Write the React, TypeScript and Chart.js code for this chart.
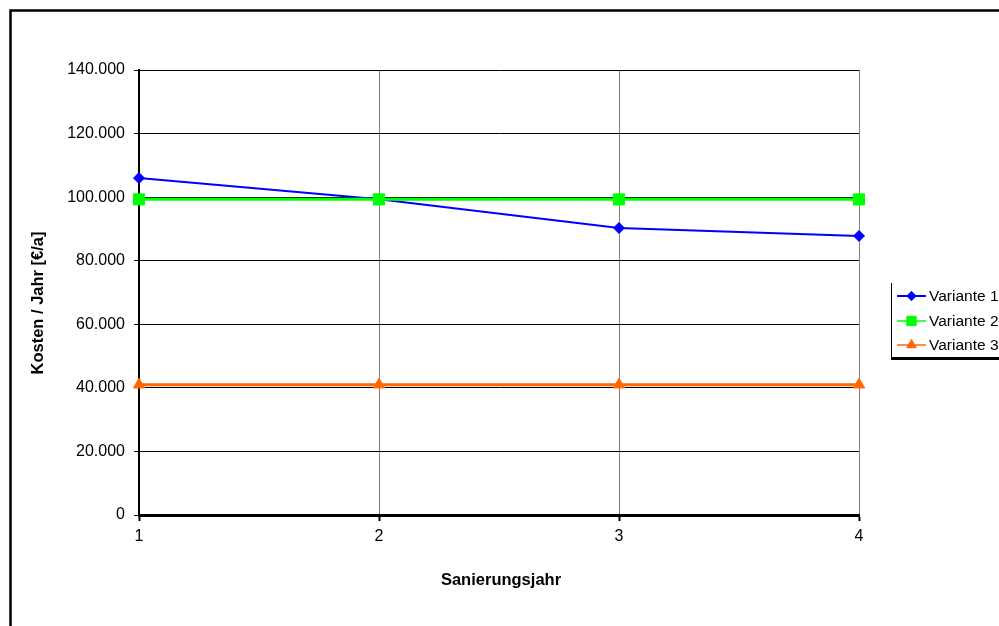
import { useEffect, useRef } from 'react';
import { Chart, registerables } from 'chart.js';
import { drawPoint } from 'chart.js/helpers';

Chart.register(...registerables);

// Sanierungsjahr categories and yearly costs (€/a) per variant
const years = ['1', '2', '3', '4'];
const variante1 = [106000, 99300, 90300, 87800];
const variante2 = [99300, 99300, 99300, 99300];
const variante3 = [41000, 41000, 41000, 41000];
const yMin = 0;
const yMax = 140000;
const yStep = 20000;

const FONT = '"Liberation Sans", Arial, sans-serif';

const formatThousands = (v: number) =>
  String(Math.round(v)).replace(/\B(?=(\d{3})+(?!\d))/g, '.');

const series = [
  { label: 'Variante 1', data: variante1, color: '#0000FF', width: 2, legendWidth: 2, style: 'rectRot', radius: 5.5, order: 2 },
  { label: 'Variante 2', data: variante2, color: '#00FF00', width: 3, legendWidth: 1.5, style: 'rect', radius: 7.8, order: 1 },
  { label: 'Variante 3', data: variante3, color: '#FF6600', width: 3, legendWidth: 1.5, style: 'triangle', radius: 6.5, order: 0 },
];

// Frame, axis titles and the legend box
const decorations = {
  id: 'decorations',
  afterDraw(chart: Chart) {
    const ctx = chart.ctx;
    const area = chart.chartArea;
    ctx.save();

    // outer frame (left and top edges visible)
    ctx.strokeStyle = '#000';
    ctx.lineWidth = 2.5;
    ctx.beginPath();
    ctx.moveTo(10.5, 640);
    ctx.lineTo(10.5, 10.5);
    ctx.lineTo(1010, 10.5);
    ctx.stroke();

    // axis titles
    ctx.fillStyle = '#000';
    ctx.font = `bold 16.5px ${FONT}`;
    ctx.textAlign = 'center';
    ctx.textBaseline = 'middle';
    ctx.fillText('Sanierungsjahr', (area.left + area.right) / 2 + 2, 580);
    ctx.save();
    ctx.translate(38, 303);
    ctx.rotate(-Math.PI / 2);
    ctx.fillText('Kosten / Jahr [€/a]', 0, 0);
    ctx.restore();

    // legend box
    const lx = 891.5;
    const top = 283;
    const bottom = 358;
    ctx.lineWidth = 1;
    ctx.beginPath();
    ctx.moveTo(lx, top);
    ctx.lineTo(lx, bottom);
    ctx.stroke();
    ctx.lineWidth = 3;
    ctx.beginPath();
    ctx.moveTo(lx - 0.5, bottom + 0.5);
    ctx.lineTo(1010, bottom + 0.5);
    ctx.stroke();

    ctx.font = `15.5px ${FONT}`;
    ctx.textAlign = 'left';
    const rows = [296, 321, 345];
    series.forEach((s, i) => {
      const y = rows[i];
      ctx.strokeStyle = s.color;
      ctx.lineWidth = s.legendWidth;
      ctx.beginPath();
      ctx.moveTo(897, y);
      ctx.lineTo(926, y);
      ctx.stroke();
      ctx.fillStyle = s.color;
      ctx.strokeStyle = s.color;
      ctx.lineWidth = 1;
      drawPoint(ctx, { pointStyle: s.style as any, radius: s.radius * 0.85, rotation: 0, borderWidth: 1 }, 911.5, y);
      ctx.fillStyle = '#000';
      ctx.fillText(s.label, 929, y + 1);
    });

    ctx.restore();
  },
};

export default function App() {
  const canvasRef = useRef<HTMLCanvasElement | null>(null);

  useEffect(() => {
    const canvas = canvasRef.current;
    if (!canvas) return;
    const chart = new Chart(canvas, {
      type: 'line',
      data: {
        labels: years,
        datasets: series.map((s) => ({
          label: s.label,
          data: s.data,
          order: s.order,
          borderColor: s.color,
          backgroundColor: s.color,
          borderWidth: s.width,
          pointStyle: s.style as any,
          pointRadius: s.radius,
          pointBorderWidth: 1,
          pointBorderColor: s.color,
          pointBackgroundColor: s.color,
          tension: 0,
          fill: false,
        })),
      },
      options: {
        responsive: false,
        animation: false,
        layout: { padding: { left: 0, top: 70, right: 140, bottom: 0 } },
        plugins: {
          legend: { display: false },
          tooltip: { enabled: false },
        },
        scales: {
          x: {
            type: 'category',
            offset: false,
            grid: { color: '#808080', lineWidth: 1, tickColor: '#000', tickLength: 6, tickWidth: 2 },
            border: { display: true, color: '#000', width: 3 },
            ticks: { color: '#000', font: { family: FONT, size: 16 }, padding: 6, maxRotation: 0 },
            afterFit: (scale: any) => {
              scale.height = 111;
            },
          },
          y: {
            min: yMin,
            max: yMax,
            grid: { color: '#000', lineWidth: 1, tickColor: '#000', tickLength: 5 },
            border: { display: true, color: '#000', width: 2 },
            ticks: {
              stepSize: yStep,
              color: '#000',
              font: { family: FONT, size: 16 },
              padding: 9,
              callback: (v: any) => formatThousands(Number(v)),
            },
            afterFit: (scale: any) => {
              scale.width = 139;
            },
          },
        },
      },
      plugins: [decorations],
    });
    return () => chart.destroy();
  }, []);

  return (
    <div style={{ position: 'absolute', left: 0, top: 0, width: 999, height: 626, background: '#fff' }}>
      <canvas ref={canvasRef} width={999} height={626} style={{ display: 'block' }} />
    </div>
  );
}
